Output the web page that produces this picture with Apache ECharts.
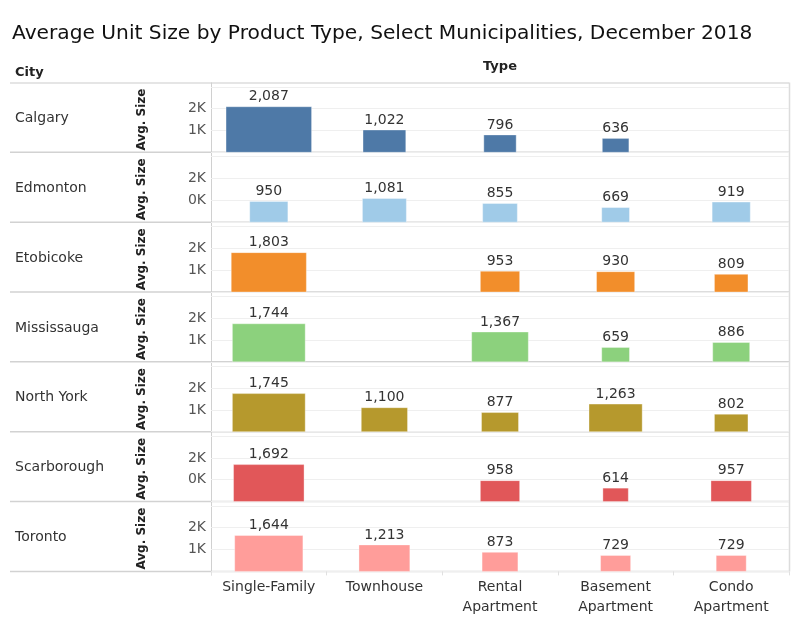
<!DOCTYPE html>
<html>
<head>
<meta charset="utf-8">
<script src="https://cdn.jsdelivr.net/npm/echarts@6/dist/echarts.min.js"></script>
<style>
html,body{margin:0;padding:0;background:#fff;}
#chart{width:800px;height:640px;}
</style>
</head>
<body>
<div id="chart"></div>
<script>
// ---------- data ----------
const titleText = 'Average Unit Size by Product Type, Select Municipalities, December 2018';
const types = ['Single-Family', 'Townhouse', 'Rental\nApartment', 'Basement\nApartment', 'Condo\nApartment'];
const cities = ['Calgary', 'Edmonton', 'Etobicoke', 'Mississauga', 'North York', 'Scarborough', 'Toronto'];

// average unit size (sq ft) per type, null = no data
const calgary     = [2087, 1022, 796, 636, null];
const edmonton    = [950, 1081, 855, 669, 919];
const etobicoke   = [1803, null, 953, 930, 809];
const mississauga = [1744, null, 1367, 659, 886];
const northYork   = [1745, 1100, 877, 1263, 802];
const scarborough = [1692, null, 958, 614, 957];
const toronto     = [1644, 1213, 873, 729, 729];

// relative size measure (share of the column) encoded as bar width
const calgaryShare     = [0.74, 0.37, 0.28, 0.23, null];
const edmontonShare    = [0.33, 0.38, 0.30, 0.24, 0.33];
const etobicokeShare   = [0.65, null, 0.34, 0.33, 0.29];
const mississaugaShare = [0.63, null, 0.49, 0.24, 0.32];
const northYorkShare   = [0.63, 0.40, 0.32, 0.46, 0.29];
const scarboroughShare = [0.61, null, 0.34, 0.22, 0.35];
const torontoShare     = [0.59, 0.44, 0.31, 0.26, 0.26];

// tick labels shown at 1K and 2K for each row
const tickValues = [1000, 2000];
const ticksCalgary     = ['1K', '2K'];
const ticksEdmonton    = ['0K', '2K'];
const ticksEtobicoke   = ['1K', '2K'];
const ticksMississauga = ['1K', '2K'];
const ticksNorthYork   = ['1K', '2K'];
const ticksScarborough = ['0K', '2K'];
const ticksToronto     = ['1K', '2K'];

const yAxisTitle = 'Avg. Size';
const rowHeader = 'City';
const colHeader = 'Type';

// ---------- styling / layout ----------
const values = [calgary, edmonton, etobicoke, mississauga, northYork, scarborough, toronto];
const shares = [calgaryShare, edmontonShare, etobicokeShare, mississaugaShare, northYorkShare, scarboroughShare, torontoShare];
const ticks = [ticksCalgary, ticksEdmonton, ticksEtobicoke, ticksMississauga, ticksNorthYork, ticksScarborough, ticksToronto];
const colors = ['#4e79a7', '#a0cbe8', '#f28e2b', '#8cd17d', '#b6992d', '#e15759', '#ff9d9a'];

const FONT = 'DejaVu Sans';
const LEFT = 211, RIGHT = 789;
const FIRST_BOTTOM = 152.3, ROW_STEP = 69.85, PLOT_H = 65.5;

const fmt = v => v.toLocaleString('en-US');

const chart = echarts.init(document.getElementById('chart'));

const grids = [], xAxes = [], yAxes = [], series = [];
const graphics = [];

cities.forEach((city, i) => {
  const bottom = FIRST_BOTTOM + ROW_STEP * i;
  const last = i === cities.length - 1;
  grids.push({left: LEFT, width: RIGHT - LEFT, top: bottom - PLOT_H, height: PLOT_H, containLabel: false});
  xAxes.push({
    type: 'category', gridIndex: i, data: types,
    axisLine: {show: false},
    axisTick: {show: last, interval: 0, length: 4, lineStyle: {color: '#e0e0e0'}},
    axisLabel: {show: last, interval: 0, hideOverlap: false, color: '#333', fontFamily: FONT, fontSize: 14, lineHeight: 20, margin: 6},
    splitLine: {show: false}
  });
  const tl = ticks[i];
  yAxes.push({
    type: 'value', gridIndex: i, min: 0, max: 3000, interval: 1000,
    name: yAxisTitle, nameLocation: 'middle', nameRotate: 90, nameGap: 63,
    nameTextStyle: {color: '#222', fontFamily: FONT, fontSize: 12, fontWeight: 'bold'},
    axisLine: {show: false}, axisTick: {show: false},
    axisLabel: {
      color: '#555', fontFamily: FONT, fontSize: 14, margin: 5,
      formatter: v => { const k = tickValues.indexOf(v); return k >= 0 ? tl[k] : ''; }
    },
    splitLine: {show: true, lineStyle: {color: '#efefef', width: 1}}
  });
  const data = [];
  values[i].forEach((v, j) => { if (v != null) data.push([j, v, shares[i][j]]); });
  const color = colors[i];
  series.push({
    type: 'custom', xAxisIndex: i, yAxisIndex: i, data: data,
    encode: {x: 0, y: 1},
    renderItem: (params, api) => {
      const c = api.value(0), v = api.value(1), s = api.value(2);
      const topPt = api.coord([c, v]);
      const basePt = api.coord([c, 0]);
      const band = api.size([1, 0])[0];
      const w = s * band;
      return {
        type: 'group',
        children: [
          {type: 'rect', shape: {x: topPt[0] - w / 2, y: topPt[1], width: w, height: basePt[1] - topPt[1]},
           style: {fill: color, stroke: 'rgba(255,255,255,0.35)', lineWidth: 1}},
          {type: 'text', x: topPt[0], y: topPt[1] - 3,
           style: {text: fmt(v), align: 'center', verticalAlign: 'bottom', fill: '#333', font: '14px "' + FONT + '"'}}
        ]
      };
    }
  });
  // city label
  graphics.push({type: 'text', x: 15, y: bottom - ROW_STEP / 2 + 1,
    style: {text: city, fill: '#333', font: '14px "' + FONT + '"', align: 'left', verticalAlign: 'middle'}});
  // row separator
  graphics.push({type: 'line', shape: {x1: 10, y1: bottom, x2: RIGHT, y2: bottom},
    style: {stroke: '#d2d2d2', lineWidth: 1.5}});
});

const headerY = FIRST_BOTTOM - ROW_STEP;
graphics.push({type: 'line', shape: {x1: 10, y1: headerY + 0.5, x2: RIGHT, y2: headerY + 0.5}, style: {stroke: '#dcdcdc', lineWidth: 1.5}});
graphics.push({type: 'line', shape: {x1: LEFT + 0.5, y1: headerY, x2: LEFT + 0.5, y2: FIRST_BOTTOM + ROW_STEP * 6 + 4}, style: {stroke: '#d0d0d0', lineWidth: 1}});
graphics.push({type: 'line', shape: {x1: RIGHT + 0.5, y1: headerY, x2: RIGHT + 0.5, y2: FIRST_BOTTOM + ROW_STEP * 6}, style: {stroke: '#dcdcdc', lineWidth: 1.5}});
graphics.push({type: 'text', x: 15, y: 73, style: {text: rowHeader, fill: '#222', font: 'bold 13px "' + FONT + '"', align: 'left', verticalAlign: 'middle'}});
graphics.push({type: 'text', x: (LEFT + RIGHT) / 2, y: 67, style: {text: colHeader, fill: '#222', font: 'bold 13px "' + FONT + '"', align: 'center', verticalAlign: 'middle'}});

chart.setOption({
  animation: false,
  backgroundColor: '#fff',
  title: {text: titleText, left: 7, top: 19, textStyle: {color: '#111', fontFamily: FONT, fontSize: 20.2, fontWeight: 'normal'}},
  grid: grids, xAxis: xAxes, yAxis: yAxes, series: series,
  graphic: graphics
});
</script>
</body>
</html>
